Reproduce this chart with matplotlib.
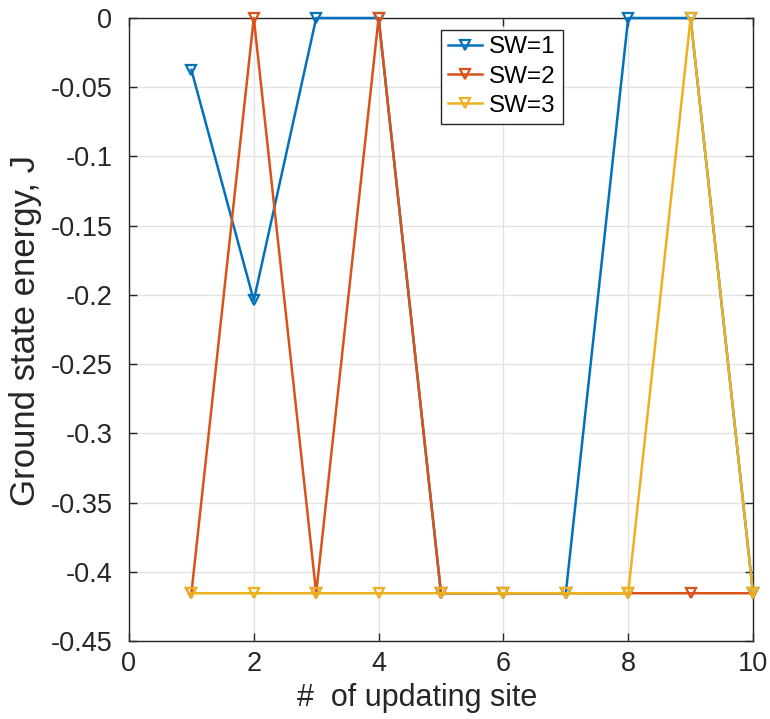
import matplotlib
matplotlib.use("Agg")
import matplotlib.pyplot as plt

plt.rcParams['font.family'] = ['Liberation Sans', 'DejaVu Sans']

x = [1, 2, 3, 4, 5, 6, 7, 8, 9, 10]
sw1 = [-0.0375, -0.204, 0, 0, -0.4155, -0.4155, -0.4155, 0, 0, -0.4155]
sw2 = [-0.4155, 0, -0.4155, 0, -0.4155, -0.4155, -0.4155, -0.4155, -0.4155, -0.4155]
sw3 = [-0.4155, -0.4155, -0.4155, -0.4155, -0.4155, -0.4155, -0.4155, -0.4155, 0, -0.4155]
labels = ['SW=1', 'SW=2', 'SW=3']
colors = ['#0072BD', '#D95319', '#EDB120']
xticks = [0, 2, 4, 6, 8, 10]
yticks = [-0.45, -0.4, -0.35, -0.3, -0.25, -0.2, -0.15, -0.1, -0.05, 0]
ytick_labels = ['-0.45', '-0.4', '-0.35', '-0.3', '-0.25', '-0.2', '-0.15', '-0.1', '-0.05', '0']

fig = plt.figure(figsize=(7.7, 7.19), dpi=100)
ax = fig.add_axes([129/770, 1 - 641/719, (753-129)/770, (641-18)/719])

for ys, lab, c in zip([sw1, sw2, sw3], labels, colors):
    ax.plot(x, ys, color=c, lw=1.8, marker='v', markersize=7,
            markerfacecolor='none', markeredgecolor=c, markeredgewidth=1.6,
            label=lab, clip_on=False, zorder=3)

ax.set_xlim(0, 10)
ax.set_ylim(-0.45, 0)
ax.set_xticks(xticks)
ax.set_xticklabels([str(t) for t in xticks])
ax.set_yticks(yticks)
ax.set_yticklabels(ytick_labels)
ax.grid(True, color='#e3e3e3', lw=1.0)
ax.set_axisbelow(True)
ax.tick_params(direction='in', top=True, right=True, labelsize=19.5, length=6,
               width=1.0, color='#262626', labelcolor='#262626')
ax.tick_params(axis='x', pad=7)
ax.tick_params(axis='y', pad=12)
for s in ax.spines.values():
    s.set_color('#262626')
    s.set_linewidth(1.0)

ax.set_xlabel('#  of updating site', fontsize=22, color='#262626')
ax.xaxis.set_label_coords(0.4615, -0.068)
ax.set_ylabel('Ground state energy, J', fontsize=25, color='#262626')
ax.yaxis.set_label_coords(-0.14, 0.498)

leg = ax.legend(loc='upper left', bbox_to_anchor=(0.5, 0.9815), fontsize=17.5,
                frameon=True, fancybox=False, edgecolor='#262626', framealpha=1,
                handlelength=1.4, handletextpad=0.3, borderpad=0.28, labelspacing=0.3,
                borderaxespad=0)
leg.get_frame().set_linewidth(1.0)

fig.savefig('out.png', dpi=100)
